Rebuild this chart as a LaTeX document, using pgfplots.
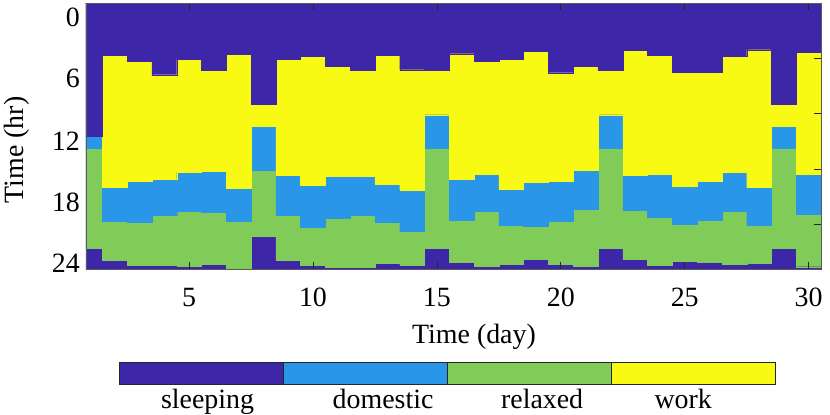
\documentclass[border=0pt]{standalone}
\usepackage{fontspec}
\setmainfont{Liberation Serif}
\usepackage{pgfplots}
\pgfplotsset{compat=1.18}
\usepackage{pgfplotstable}
\definecolor{csleep}{RGB}{62,38,168}
\definecolor{cdom}{RGB}{41,150,232}
\definecolor{crel}{RGB}{129,203,88}
\definecolor{cwork}{RGB}{249,250,20}
\definecolor{cframe}{RGB}{90,90,90}

% a = end of morning sleep, b = end of work, c = end of domestic, d = end of relaxed (hours)
\pgfplotstableread{
day a b c d full
1 12.04 12.04 13.10 22.10 24
2 4.72 16.62 19.69 23.24 24
3 5.24 16.10 19.75 23.63 24
4 6.47 15.87 19.12 23.69 24
5 5.09 15.23 18.82 23.75 24
6 6.08 15.14 18.88 23.60 24
7 4.63 16.71 19.69 23.90 24
8 9.09 11.08 15.11 21.07 24
9 5.03 15.50 19.18 23.24 24
10 4.79 16.47 20.23 23.63 24
11 5.72 15.63 19.42 23.85 24
12 6.08 15.63 19.12 23.85 24
13 4.67 16.35 19.75 23.48 24
14 6.02 16.86 20.62 23.63 24
15 6.08 10.08 13.10 22.10 24
16 4.57 15.87 19.57 23.39 24
17 5.27 15.47 18.82 23.75 24
18 5.09 16.83 20.08 23.54 24
19 4.36 16.17 20.17 23.15 24
20 6.29 16.11 19.69 23.60 24
21 5.72 15.11 18.57 23.73 24
22 6.08 10.08 13.10 22.10 24
23 4.27 15.56 18.73 23.09 24
24 4.72 15.47 19.33 23.69 24
25 6.23 16.53 19.99 23.30 24
26 6.23 16.11 19.63 23.39 24
27 4.79 15.23 18.79 23.60 24
28 4.21 16.62 20.02 23.48 24
29 9.09 11.08 13.10 22.10 24
30 4.42 15.41 19.03 23.79 24
}\acts

\pgfplotsset{
  lay/.style={ybar, bar width=1, bar shift=0pt, fill=#1, draw=#1, line width=0.3bp},
}
\newcommand{\lbl}{\rmfamily\fontsize{28}{33}\selectfont}

\begin{document}
\begin{tikzpicture}[font=\lbl]
\begin{axis}[
  at={(0,0)}, anchor=south west,
  scale only axis, width=735bp, height=266bp,
  xmin=0.84, xmax=30.5, ymin=0, ymax=24, y dir=reverse,
  axis on top,
  xtick={5,10,15,20,25,30},
  xticklabels={\textrm{5},\textrm{10},\textrm{15},\textrm{20},\textrm{25},\textrm{30}},
  ytick={1.26,6.80,12.49,17.98,23.51},
  yticklabels={\textrm{0},\textrm{6},\textrm{12},\textrm{18},\textrm{24}},
  major tick length=0pt,
  /pgf/number format/assume math mode=true,
  tick label style={font=\lbl},
  label style={font=\lbl},
  xticklabel style={anchor=base, yshift=-37.7bp},
  yticklabel style={anchor=east, inner sep=0pt, xshift=-6bp},
  xlabel={Time (day)},
  ylabel={Time (hr)},
  xlabel style={at={(axis description cs:0.5279,-0.2793)}, anchor=base},
  ylabel style={at={(axis description cs:-0.0939,0.4474)}, anchor=center},
  axis line style={cframe, line width=0.7bp},
]
\addplot[lay=csleep] table[x=day,y=full]{\acts};
\addplot[lay=crel] table[x=day,y=d]{\acts};
\addplot[lay=cdom] table[x=day,y=c]{\acts};
\addplot[lay=cwork] table[x=day,y=b]{\acts};
\addplot[lay=csleep] table[x=day,y=a]{\acts};
\end{axis}
% tick marks (inside)
\begin{axis}[
  at={(0,0)}, anchor=south west,
  scale only axis, width=735bp, height=266bp,
  xmin=0.84, xmax=30.5, ymin=0, ymax=24, y dir=reverse,
  xtick={5,10,...,30}, xticklabels={},
  ytick={5,10,15,20}, yticklabels={},
  ytick pos=right, xtick pos=both,
  tick align=inside, major tick length=7bp,
  tick style={black!85, line width=0.7bp},
  axis line style={cframe, line width=0.7bp},
]
\end{axis}
% colour bar
\begin{axis}[
  at={(33bp,-115bp)}, anchor=south west,
  scale only axis, width=656bp, height=21.3bp,
  xmin=0, xmax=4, ymin=0, ymax=1,
  ytick=\empty,
  xtick={0.54,1.61,2.58,3.44},
  xticklabels={sleeping,domestic,relaxed,work},
  major tick length=0pt,
  tick label style={font=\lbl},
  xticklabel style={anchor=base, yshift=-24bp},
  axis on top,
  axis line style={black!85, line width=0.8bp},
]
\addplot[ybar, bar width=1, bar shift=0pt, fill=csleep, draw=black!85, line width=0.8bp] coordinates {(0.5,1)};
\addplot[ybar, bar width=1, bar shift=0pt, fill=cdom, draw=black!85, line width=0.8bp] coordinates {(1.5,1)};
\addplot[ybar, bar width=1, bar shift=0pt, fill=crel, draw=black!85, line width=0.8bp] coordinates {(2.5,1)};
\addplot[ybar, bar width=1, bar shift=0pt, fill=cwork, draw=black!85, line width=0.8bp] coordinates {(3.5,1)};
\end{axis}
\pgfresetboundingbox
\path[use as bounding box] (-86bp,-146bp) rectangle (744bp,269bp);
\end{tikzpicture}
\end{document}
